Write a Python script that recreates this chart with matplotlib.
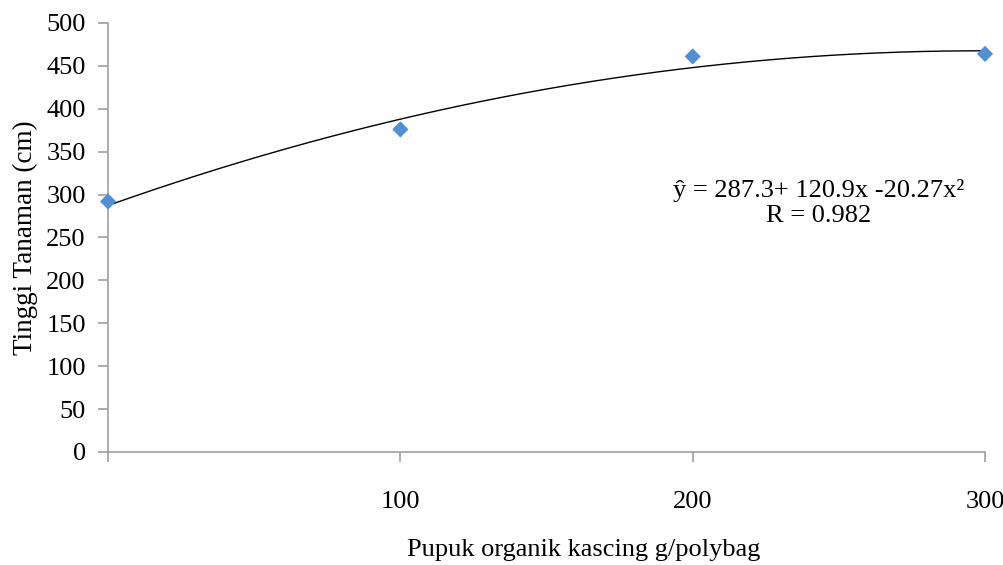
import numpy as np
import matplotlib
matplotlib.use("Agg")
import matplotlib.pyplot as plt

plt.rcParams['font.family'] = ['Liberation Serif', 'DejaVu Serif']

# Data
dosis = [0, 100, 200, 300]
tinggi = [292, 376, 461, 464]
xticks = [0, 100, 200, 300]
xticklabels = ['', '100', '200', '300']
yticks = list(range(0, 501, 50))
coef = [287.3, 120.9, -20.27]  # trend line: y = a + b*x + c*x^2, x = dosis/100

fig = plt.figure(figsize=(10.04, 5.65), dpi=100)
ax = fig.add_axes([0.1076, 0.2, 0.8735, 0.7593])

xs = np.linspace(0, 300, 200)
t = xs / 100.0
ax.plot(xs, coef[0] + coef[1] * t + coef[2] * t ** 2, color='black', lw=1.0, zorder=2)
ax.scatter(dosis, tinggi, marker='D', s=68, color='#4F8FD6', edgecolors='none', zorder=3, clip_on=False)

ax.set_xlim(0, 300)
ax.set_ylim(0, 500)
ax.set_xticks(xticks)
ax.set_xticklabels(xticklabels)
ax.set_yticks(yticks)

for s in ['top', 'right']:
    ax.spines[s].set_visible(False)
for s in ['left', 'bottom']:
    ax.spines[s].set_color('#A0A0A0')
    ax.spines[s].set_linewidth(1.2)

ax.tick_params(axis='both', direction='out', length=7, color='#A0A0A0', width=1.2, labelsize=19)
ax.tick_params(axis='x', pad=21)
ax.tick_params(axis='y', pad=9)

ax.set_xlabel('Pupuk organik kascing g/polybag', fontsize=19, labelpad=19)
ax.xaxis.label.set_x(0.542)
ax.set_ylabel('Tinggi Tanaman (cm)', fontsize=19.5, labelpad=6)

ax.text(0.81, 0.58, 'ŷ = 287.3+ 120.9x -20.27x²\nR = 0.982', transform=ax.transAxes,
        ha='center', va='center', fontsize=19, linespacing=1.2)

fig.savefig('out.png', dpi=100)
